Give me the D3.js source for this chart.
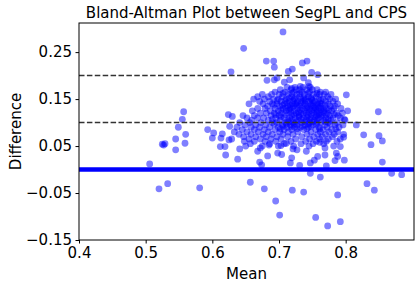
<!doctype html>
<html>
<head>
<meta charset="utf-8">
<title>Bland-Altman Plot</title>
<script src="https://cdnjs.cloudflare.com/ajax/libs/d3/7.8.5/d3.min.js"></script>
<style>
  body { margin: 0; background: #fff; }
  text { font-family: "DejaVu Sans", sans-serif; fill: #000; }
</style>
</head>
<body>
<div id="chart"></div>
<script>
// tick values
const xTicks = [0.4, 0.5, 0.6, 0.7, 0.8];
const yTicks = [-0.15, -0.05, 0.05, 0.15, 0.25];
const refLines = [0.1, 0.2];   // dashed lines
const zeroLine = 0;            // solid blue line

// scattered points (mean, difference)
const outerPoints = [
  [0.706,0.293],[0.647,0.258],[0.628,0.208],[0.681,0.231],[0.692,0.231],[0.693,0.218],
  [0.735,0.227],[0.742,0.231],[0.714,0.209],[0.720,0.214],[0.749,0.207],[0.758,0.202],
  [0.682,0.190],[0.693,0.191],[0.697,0.195],[0.708,0.186],[0.716,0.191],[0.737,0.195],
  [0.744,0.185],[0.745,0.177],[0.719,0.173],[0.732,0.177],
  [0.506,0.012],[0.525,0.054],[0.527,0.052],[0.529,0.055],[0.520,-0.041],[0.533,-0.030],
  [0.545,0.042],[0.545,0.065],[0.549,0.090],[0.555,0.107],[0.557,0.123],[0.559,0.056],
  [0.560,0.075],[0.581,-0.039],[0.593,0.085],[0.602,0.078],[0.600,0.067],[0.612,0.049],
  [0.613,0.067],[0.615,0.076],[0.619,0.049],[0.620,0.031],[0.624,0.117],[0.630,0.113],
  [0.626,0.092],[0.625,0.063],[0.638,0.022],[0.641,0.044],
  [0.801,0.159],[0.803,0.125],[0.849,0.123],[0.816,0.095],[0.827,0.074],[0.838,0.053],
  [0.850,0.072],[0.855,0.061],[0.855,0.016],[0.798,0.020],[0.798,0.107],[0.792,0.049],
  [0.797,0.069],
  [0.869,-0.008],[0.884,-0.011],[0.832,-0.030],[0.843,-0.044],[0.788,-0.054],[0.792,-0.111],
  [0.773,-0.120],[0.755,-0.102],[0.737,-0.048],[0.720,-0.044],[0.701,-0.097],[0.695,-0.067],
  [0.678,-0.041],[0.657,-0.027],[0.747,-0.008],[0.762,-0.016]
];

// lower edge of the main cloud
const lowerPoints = [
  [0.671,0.016],[0.674,0.010],[0.719,0.025],[0.717,0.014],[0.731,0.009],[0.747,0.014],
  [0.753,0.020],[0.758,0.028],[0.771,0.008],[0.786,0.035],[0.769,0.046],[0.761,0.058],
  [0.721,0.044],[0.741,0.039],[0.668,0.039],[0.672,0.046],[0.698,0.035],[0.683,0.029],
  [0.704,0.032],[0.769,0.031],[0.788,0.028],[0.784,0.019],[0.727,0.042],[0.685,0.052],
  [0.703,0.051],[0.711,0.056]
];

// main cloud, row by row: [difference, means]
const clusterRows = [
  [0.175, [0.712,0.724,0.736,0.747]],
  [0.170, [0.702,0.718,0.726,0.731,0.741,0.750,0.757]],
  [0.165, [0.694,0.709,0.722,0.735,0.746,0.762,0.770]],
  [0.162, [0.706,0.719,0.731,0.744,0.757]],
  [0.160, [0.675,0.689,0.700,0.714,0.727,0.738,0.752,0.761,0.768,0.778]],
  [0.155, [0.668,0.684,0.705,0.719,0.731,0.744,0.756,0.773]],
  [0.152, [0.715,0.724,0.737,0.748]],
  [0.150, [0.662,0.678,0.692,0.699,0.711,0.723,0.733,0.740,0.749,0.760,0.766,0.776,0.785]],
  [0.147, [0.697,0.709,0.721,0.739,0.750,0.763]],
  [0.145, [0.671,0.686,0.703,0.716,0.728,0.736,0.745,0.754,0.770,0.781]],
  [0.142, [0.712,0.727,0.733,0.752,0.761]],
  [0.140, [0.655,0.676,0.690,0.697,0.708,0.720,0.725,0.739,0.747,0.758,0.764,0.774,0.788]],
  [0.137, [0.692,0.705,0.717,0.727,0.737,0.748,0.757,0.769]],
  [0.135, [0.683,0.701,0.713,0.722,0.731,0.743,0.751,0.762,0.777,0.784]],
  [0.132, [0.710,0.720,0.741,0.753,0.760]],
  [0.130, [0.668,0.679,0.694,0.706,0.717,0.728,0.735,0.746,0.755,0.766,0.771,0.782,0.793]],
  [0.127, [0.703,0.715,0.732,0.743,0.753,0.763,0.775]],
  [0.125, [0.660,0.687,0.699,0.711,0.723,0.738,0.749,0.758,0.768,0.779]],
  [0.122, [0.718,0.729,0.745,0.757,0.767]],
  [0.120, [0.672,0.681,0.693,0.704,0.714,0.726,0.733,0.741,0.752,0.762,0.773,0.786,0.795]],
  [0.117, [0.695,0.709,0.723,0.736,0.749,0.760,0.771,0.783]],
  [0.115, [0.646,0.663,0.688,0.700,0.719,0.730,0.744,0.756,0.765,0.776,0.789]],
  [0.112, [0.703,0.730,0.742,0.754,0.763]],
  [0.110, [0.652,0.668,0.677,0.695,0.708,0.716,0.724,0.737,0.748,0.759,0.770,0.781,0.792]],
  [0.107, [0.690,0.719,0.733,0.746,0.757,0.774]],
  [0.105, [0.659,0.684,0.702,0.713,0.729,0.741,0.753,0.767,0.778,0.799]],
  [0.102, [0.715,0.726,0.739,0.750,0.770]],
  [0.100, [0.641,0.656,0.673,0.690,0.697,0.710,0.721,0.734,0.746,0.757,0.763,0.774,0.787]],
  [0.097, [0.693,0.711,0.723,0.744,0.756,0.777]],
  [0.095, [0.649,0.665,0.680,0.705,0.717,0.727,0.739,0.751,0.769,0.784,0.796]],
  [0.092, [0.706,0.718,0.735,0.748]],
  [0.090, [0.637,0.658,0.671,0.686,0.699,0.712,0.723,0.732,0.744,0.760,0.772,0.790]],
  [0.087, [0.702,0.727,0.742,0.761,0.785]],
  [0.085, [0.645,0.663,0.678,0.694,0.708,0.719,0.737,0.755,0.766,0.779]],
  [0.080, [0.633,0.652,0.669,0.684,0.701,0.714,0.728,0.748,0.762,0.775,0.788]],
  [0.075, [0.640,0.658,0.676,0.690,0.706,0.721,0.742,0.758,0.770,0.783,0.797]],
  [0.070, [0.647,0.665,0.681,0.697,0.713,0.734,0.752,0.765,0.780]],
  [0.065, [0.629,0.655,0.672,0.688,0.703,0.725,0.746,0.761,0.774,0.792]],
  [0.060, [0.648,0.663,0.679,0.695,0.718,0.740,0.756,0.771,0.787]],
  [0.055, [0.657,0.686,0.708,0.733,0.751,0.767]],
  [0.050, [0.650,0.675,0.699,0.722,0.745,0.782]]
];

const points = outerPoints.concat(lowerPoints);
clusterRows.forEach(([d, ms]) => ms.forEach(m => points.push([m, d])));

const W = 420, H = 287;
const padL = 79, padR = 414, padT = 23, padB = 240;

const svg = d3.select('#chart').append('svg')
  .attr('width', W).attr('height', H);

const x = d3.scaleLinear().domain([0.4, 0.9025]).range([padL, padR]);
const y = d3.scaleLinear().domain([-0.15, 0.312]).range([padB, padT]);

// points
svg.append('g')
  .selectAll('circle')
  .data(points)
  .join('circle')
  .attr('cx', d => x(d[0]))
  .attr('cy', d => y(d[1]))
  .attr('r', 3.4)
  .attr('fill', 'blue')
  .attr('fill-opacity', 0.5);

// reference lines
svg.append('line')
  .attr('x1', padL).attr('x2', padR)
  .attr('y1', y(zeroLine)).attr('y2', y(zeroLine))
  .attr('stroke', 'blue').attr('stroke-width', 4.5);

svg.selectAll('.ref')
  .data(refLines)
  .join('line')
  .attr('class', 'ref')
  .attr('x1', padL).attr('x2', padR)
  .attr('y1', d => y(d)).attr('y2', d => y(d))
  .attr('stroke', '#333').attr('stroke-width', 1.5)
  .attr('stroke-dasharray', '5.5,2.4');

// axes
const xAxis = svg.append('g')
  .attr('transform', `translate(0,${padB})`)
  .call(d3.axisBottom(x).tickValues(xTicks).tickFormat(d3.format('.1f'))
    .tickSize(3.5).tickPadding(3.5));
const yAxis = svg.append('g')
  .attr('transform', `translate(${padL},0)`)
  .call(d3.axisLeft(y).tickValues(yTicks).tickFormat(d3.format('.2f'))
    .tickSize(3.5).tickPadding(3.5));

[xAxis, yAxis].forEach(g => {
  g.select('.domain').remove();
  g.selectAll('text').attr('font-size', 15).attr('font-family', '"DejaVu Sans", sans-serif');
  g.selectAll('line').attr('stroke', '#000').attr('stroke-width', 1);
});

// frame
svg.append('rect')
  .attr('x', padL).attr('y', padT)
  .attr('width', padR - padL).attr('height', padB - padT)
  .attr('fill', 'none').attr('stroke', '#000').attr('stroke-width', 1);

// labels
svg.append('text')
  .attr('x', (padL + padR) / 2).attr('y', 17.5)
  .attr('text-anchor', 'middle').attr('font-size', 15)
  .text('Bland-Altman Plot between SegPL and CPS');

svg.append('text')
  .attr('x', (padL + padR) / 2).attr('y', 279)
  .attr('text-anchor', 'middle').attr('font-size', 15)
  .text('Mean');

svg.append('text')
  .attr('transform', `translate(21,${(padT + padB) / 2}) rotate(-90)`)
  .attr('text-anchor', 'middle').attr('font-size', 15)
  .text('Difference');
</script>
</body>
</html>
